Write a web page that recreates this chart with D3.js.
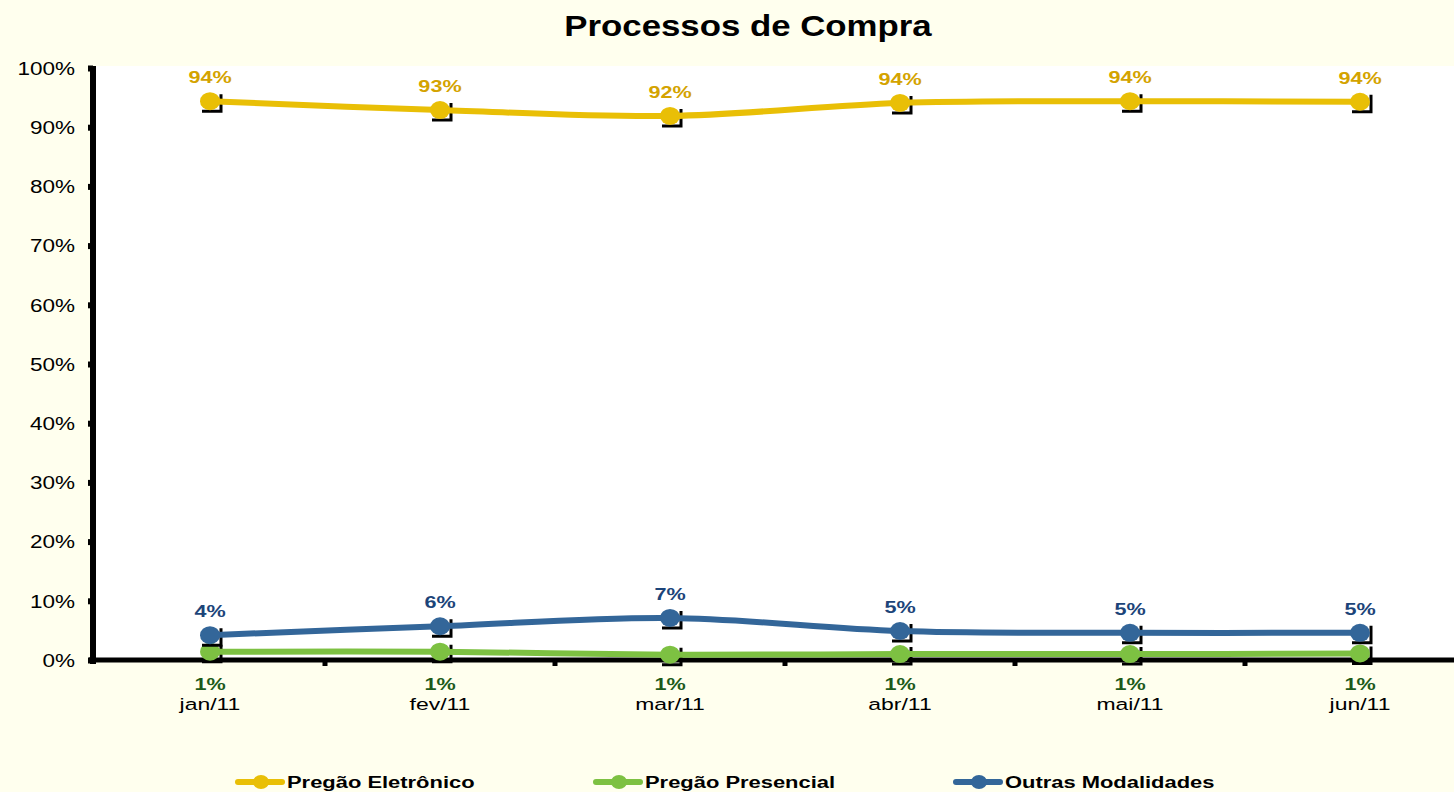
<!DOCTYPE html>
<meta charset="utf-8">
<html>
<head>
    <style>
        body { margin: 0; background: #FFFFEE; }
        svg { display: block; font-family: "Liberation Sans", Arial, sans-serif; }
        .tick text { fill: #000; }
    </style>
    <script src="https://d3js.org/d3.v7.min.js"></script>
</head>
<body>
<script>

    // data
    var months = ["jan/11", "fev/11", "mar/11", "abr/11", "mai/11", "jun/11"];
    var eletronico = [0.944, 0.929, 0.919, 0.941, 0.944, 0.943];
    var presencial = [0.014, 0.014, 0.009, 0.010, 0.010, 0.011];
    var outras = [0.042, 0.057, 0.071, 0.049, 0.046, 0.046];
    var eletronicoLbl = ["94%", "93%", "92%", "94%", "94%", "94%"];
    var presencialLbl = ["1%", "1%", "1%", "1%", "1%", "1%"];
    var outrasLbl = ["4%", "6%", "7%", "5%", "5%", "5%"];
    var yTicks = [0, 0.1, 0.2, 0.3, 0.4, 0.5, 0.6, 0.7, 0.8, 0.9, 1];

    var series = [
        {name: "Pregão Eletrônico", values: eletronico, labels: eletronicoLbl, color: "#E9BF06", lblColor: "#D4A300", above: true},
        {name: "Pregão Presencial", values: presencial, labels: presencialLbl, color: "#7DC142", lblColor: "#1D5A1A", above: false},
        {name: "Outras Modalidades", values: outras, labels: outrasLbl, color: "#336699", lblColor: "#1C4479", above: true}
    ];

    var width = 1454, height = 792;
    var margin = {top: 68, right: -21, bottom: 132, left: 95};

    // the original picture is stretched sideways, so text gets widened too
    function stretch(sel, sx) {
        sel.each(function () {
            var t = d3.select(this);
            var tx = +t.attr("x") || 0, ty = +t.attr("y") || 0;
            t.attr("transform", "translate(" + tx + "," + ty + ") scale(" + sx + ",1) translate(" + (-tx) + "," + (-ty) + ")");
        });
    }

    var svg = d3.select("body").append("svg")
        .attr("width", width)
        .attr("height", height);

    var x = d3.scaleBand()
        .domain(months)
        .range([margin.left, width - margin.right])
        .padding(0);

    var y = d3.scaleLinear()
        .domain([0, 1])
        .range([height - margin.bottom, margin.top]);

    // plot area
    svg.append("rect")
        .attr("x", margin.left)
        .attr("y", margin.top - 2)
        .attr("width", width - margin.left)
        .attr("height", y(0) - margin.top + 2)
        .attr("fill", "#fff");

    // title
    svg.append("text")
        .attr("x", 748)
        .attr("y", 36)
        .attr("text-anchor", "middle")
        .style("font-size", "29px")
        .style("font-weight", "bold")
        .text("Processos de Compra")
        .call(stretch, 1.2);

    // y axis
    var yAxis = svg.append("g")
        .attr("transform", "translate(" + (margin.left - 2) + ",0)")
        .call(d3.axisLeft(y).tickValues(yTicks).tickFormat(d3.format(".0%")).tickSize(5).tickPadding(13));
    yAxis.selectAll("text").style("font-size", "18px").attr("dy", "0.35em").call(stretch, 1.25);
    yAxis.selectAll(".tick line").attr("stroke", "#000").attr("stroke-width", 6);
    yAxis.select(".domain").attr("stroke", "#000").attr("stroke-width", 6)
        .attr("d", "M0," + (margin.top - 2) + "V" + (y(0) + 4));

    // x axis line + ticks between categories
    var xAxis = svg.append("g").attr("transform", "translate(0," + y(0) + ")");
    xAxis.append("line")
        .attr("x1", margin.left - 6).attr("x2", width)
        .attr("stroke", "#000").attr("stroke-width", 5);
    xAxis.selectAll(".xt")
        .data(months.slice(1))
        .enter().append("line")
        .attr("x1", function (d) { return x(d); })
        .attr("x2", function (d) { return x(d); })
        .attr("y1", 0).attr("y2", 6)
        .attr("stroke", "#000").attr("stroke-width", 5);
    xAxis.selectAll(".xl")
        .data(months)
        .enter().append("text")
        .attr("x", function (d) { return x(d) + x.bandwidth() / 2; })
        .attr("y", 50)
        .attr("text-anchor", "middle")
        .style("font-size", "17px")
        .text(function (d) { return d; })
        .call(stretch, 1.35);

    var line = d3.line()
        .x(function (d, i) { return x(months[i]) + x.bandwidth() / 2; })
        .y(function (d) { return y(d); })
        .curve(d3.curveCatmullRom.alpha(0.5));

    function cx(i) { return x(months[i]) + x.bandwidth() / 2; }

    series.forEach(function (s) {
        var g = svg.append("g");

        // marker shadows
        g.selectAll(".sh")
            .data(s.values)
            .enter().append("path")
            .attr("d", function (d, i) {
                var px = cx(i), py = y(d);
                return "M" + (px + 11) + "," + (py - 7) + "V" + (py + 10) + "H" + (px - 8);
            })
            .attr("fill", "none")
            .attr("stroke", "#000")
            .attr("stroke-width", 3);

        g.append("path")
            .datum(s.values)
            .attr("d", line)
            .attr("fill", "none")
            .attr("stroke", s.color)
            .attr("stroke-width", 6);

        g.selectAll(".mk")
            .data(s.values)
            .enter().append("ellipse")
            .attr("cx", function (d, i) { return cx(i); })
            .attr("cy", function (d) { return y(d); })
            .attr("rx", 10)
            .attr("ry", 9)
            .attr("fill", s.color);
    });

    // data labels on top
    series.forEach(function (s) {
        svg.append("g").selectAll("text")
            .data(s.values)
            .enter().append("text")
            .attr("x", function (d, i) { return cx(i); })
            .attr("y", function (d) { return s.above ? y(d) - 18 : y(0) + 30; })
            .attr("text-anchor", "middle")
            .style("font-size", "16px")
            .style("font-weight", "bold")
            .attr("fill", s.lblColor)
            .text(function (d, i) { return s.labels[i]; })
            .call(stretch, 1.35);
    });

    // legend
    var legendX = [235, 593, 953];
    var leg = svg.append("g").attr("transform", "translate(0,782)");
    series.forEach(function (s, i) {
        var lg = leg.append("g").attr("transform", "translate(" + legendX[i] + ",0)");
        lg.append("line")
            .attr("x1", 3).attr("x2", 47)
            .attr("stroke", s.color).attr("stroke-width", 6)
            .attr("stroke-linecap", "round");
        lg.append("ellipse")
            .attr("cx", 26).attr("rx", 8).attr("ry", 7)
            .attr("fill", s.color);
        lg.append("text")
            .attr("x", 52)
            .attr("y", 0)
            .attr("dy", "0.35em")
            .style("font-size", "17px")
            .style("font-weight", "bold")
            .text(s.name)
            .call(stretch, 1.29);
    });

</script>
</body>
</html>
